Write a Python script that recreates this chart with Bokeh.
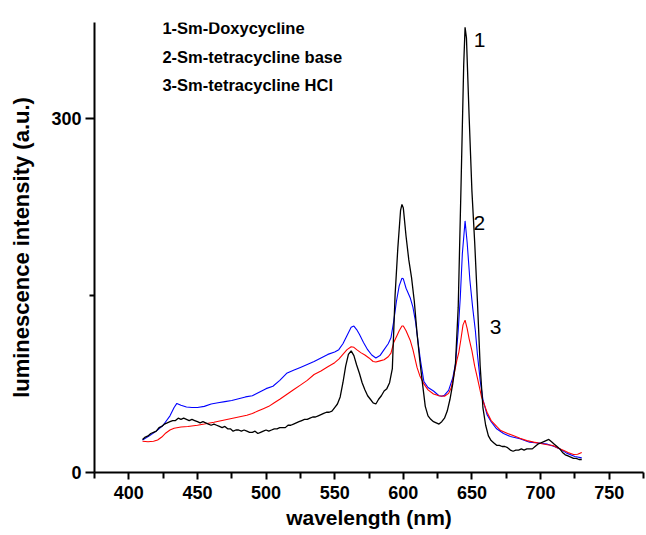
from bokeh.plotting import figure
from bokeh.models import FixedTicker, Label, Range1d
from bokeh.embed import file_html
from bokeh.resources import INLINE

# ---- data ----
wl_doxy = [410, 412, 414, 416, 418, 420, 422, 424, 426, 428, 430, 432, 434, 436, 438, 440,
           442, 444, 446, 448, 450, 452, 454, 456, 458, 460, 462, 464, 466, 468, 470, 472,
           474, 476, 478, 480, 482, 484, 486, 488, 490, 492, 494, 496, 498, 500, 502, 504,
           506, 508, 510, 512, 514, 516, 518, 520, 522, 524, 526, 528, 530, 532, 534, 536,
           538, 540, 542, 544, 546, 548, 550, 552, 554, 556, 558, 560, 562, 564, 566, 568,
           570, 572, 574, 576, 578, 580, 582, 584, 586, 588, 590, 592, 594, 596, 598, 599,
           600, 602, 604, 606, 608, 610, 612, 614, 616, 618, 620, 622, 624, 626, 628, 630,
           632, 634, 636, 638, 640, 642, 644, 645, 646, 648, 650, 652, 654, 656, 658, 660,
           662, 664, 666, 668, 670, 672, 674, 676, 678, 680, 682, 684, 686, 688, 690, 692,
           694, 696, 698, 700, 702, 704, 706, 708, 710, 712, 714, 716, 718, 720, 722, 724,
           726, 728, 730]
int_doxy = [28, 30, 31, 33, 34, 35, 38, 39, 41, 42, 43, 44, 44, 46, 45, 46,
            45, 44, 45, 44, 43, 42, 43, 42, 41, 40, 41, 40, 39, 38, 39, 37,
            37, 35, 36, 36, 35, 36, 35, 34, 34, 35, 33, 34, 35, 36, 35, 36,
            37, 37, 38, 38, 38, 40, 40, 41, 42, 43, 44, 45, 45, 46, 47, 47,
            48, 49, 50, 51, 51, 52, 55, 58, 64, 76, 90, 100, 103, 99, 91, 84,
            76, 70, 65, 62, 59, 58, 62, 65, 69, 71, 76, 88, 150, 190, 222, 227,
            224, 200, 180, 165, 145, 118, 95, 75, 56, 48, 45, 43, 42, 41, 43, 46,
            52, 62, 75, 92, 140, 240, 345, 377, 368, 300, 238, 195, 145, 90, 55, 40,
            31, 27, 25, 23, 23, 22, 22, 21, 19, 18, 19, 19, 20, 19, 20, 20,
            20, 22, 24, 25, 26, 27, 28, 26, 24, 22, 20, 17, 15, 14, 13, 12,
            12, 11, 11]

wl_base = [410, 415, 420, 425, 430, 433, 435, 438, 442, 446, 450, 455, 460, 465, 470, 475,
           480, 485, 490, 495, 500, 505, 510, 515, 520, 525, 530, 535, 540, 545, 550, 553,
           556, 559, 562, 564, 566, 568, 571, 574, 577, 580, 583, 586, 589, 591, 593, 595,
           597, 599, 600, 602, 605, 607, 609, 611, 612.5, 615, 618, 622, 626, 628, 630, 633,
           636, 638, 640, 641.5, 643, 645, 646.5, 648.5, 650.5, 652.5, 654, 656, 658, 661, 664, 668,
           673, 678, 685, 692, 700, 705, 710, 714, 719, 725, 730]
int_base = [27.5, 31, 35, 40, 48, 55, 58.5, 57, 55.5, 55, 55, 56, 58, 59, 60, 61,
            62.5, 64, 65, 68, 71, 73, 78, 84, 86.5, 89, 91.5, 94, 97, 100, 102, 104,
            109, 116, 123, 124, 121, 117, 110, 104, 99.5, 97, 99, 104, 109, 114, 128, 145,
            158, 164.5, 164, 156, 148, 140, 127, 108, 95, 77, 72, 69, 65, 64.5, 65.5, 69.5,
            80, 92, 120, 148, 185, 213, 195, 163, 140, 120, 100, 78, 62, 49, 43, 37,
            33, 30.5, 28.5, 25.7, 24.8, 24, 22, 20, 16.4, 13.5, 12.4]

wl_hcl = [410, 414, 418, 421, 424, 427, 430, 433, 438, 443, 450, 455, 462, 468, 474, 480,
          486, 490, 494, 498, 502, 506, 510, 515, 520, 525, 530, 535, 540, 545, 550, 553,
          556, 559, 562, 564, 566, 569, 572, 575, 578, 580, 583, 586, 589, 591, 593, 595,
          597, 599, 600, 602, 605, 607, 610, 612, 615, 618, 622, 626, 630, 633, 635, 637,
          639, 640.5, 642, 643.5, 645, 646.5, 648, 650, 652, 654, 657, 661, 664, 668, 671, 676,
          680, 685, 690, 695, 701, 705, 709, 713, 717, 720, 724, 727, 730]
int_hcl = [26.5, 26, 26.5, 27.5, 30, 33.5, 36, 37.5, 38.5, 39, 40, 41, 42.5, 44, 45.5, 47,
           48.5, 50, 52, 54, 56, 59, 62, 66, 70, 74, 78, 83, 86, 89.5, 93, 96,
           100, 104, 106.5, 106, 104, 101.5, 99.5, 97, 94, 93.5, 94.5, 95.5, 98, 101, 110, 115,
           120, 124, 124, 120, 112, 104, 89, 82, 75, 70, 66.5, 65, 64.5, 67, 72, 83,
           95, 102, 113, 125, 129, 122, 113, 103, 90, 80, 64, 51, 44, 39, 35.5, 33,
           31.3, 29, 27, 25.7, 24.3, 23.5, 22.9, 20.5, 18.6, 17, 15.2, 15.5, 17]

x_ticks = [400, 450, 500, 550, 600, 650, 700, 750]
x_minor = [375, 425, 475, 525, 575, 625, 675, 725, 775]
y_ticks = [0, 300]
y_minor = [150]

x_title = "wavelength (nm)"
y_title = "luminescence intensity (a.u.)"

legend_lines = ["1-Sm-Doxycycline", "2-Sm-tetracycline base", "3-Sm-tetracycline HCl"]
legend_x = 424.5
legend_y = [376.2, 351.7, 327.7]

curve_numbers = ["1", "2", "3"]
number_x = [655.5, 655.4, 667.2]
number_y = [366.5, 211.3, 123.5]

FONT = "Liberation Sans"

p = figure(width=646, height=535, output_backend="svg", toolbar_location=None,
           x_range=Range1d(375, 775), y_range=Range1d(0, 381),
           min_border_left=94, min_border_right=3, min_border_top=22, min_border_bottom=63)
p.outline_line_color = None
p.xgrid.visible = False
p.ygrid.visible = False
p.background_fill_color = "white"

p.line(wl_base, int_base, line_color="#0000ff", line_width=1.1)
p.line(wl_hcl, int_hcl, line_color="#ff0000", line_width=1.1)
p.line(wl_doxy, int_doxy, line_color="#000000", line_width=1.3)

for ax in (p.xaxis[0], p.yaxis[0]):
    ax.axis_line_width = 2
    ax.axis_line_color = "black"
    ax.major_tick_line_width = 2
    ax.minor_tick_line_width = 2
    ax.major_tick_in = 0
    ax.minor_tick_in = 0
    ax.major_label_text_font = FONT
    ax.major_label_text_font_style = "bold"
    ax.major_label_text_font_size = "18px"
    ax.major_label_text_color = "black"
    ax.axis_label_text_font = FONT
    ax.axis_label_text_font_style = "bold"
    ax.axis_label_text_font_size = "21px"
    ax.axis_label_text_color = "black"

p.xaxis.ticker = FixedTicker(ticks=x_ticks, minor_ticks=x_minor)
p.yaxis.ticker = FixedTicker(ticks=y_ticks, minor_ticks=y_minor)
p.xaxis.major_tick_out = 7
p.xaxis.minor_tick_out = 6
p.yaxis.major_tick_out = 9
p.yaxis.minor_tick_out = 5
p.xaxis.major_label_standoff = 6
p.yaxis.major_label_standoff = 4
p.xaxis.axis_label = x_title
p.xaxis.axis_label_standoff = 4
p.yaxis.axis_label = y_title
p.yaxis.axis_label_text_font_size = "22px"
p.yaxis.axis_label_standoff = 14

for txt, yy in zip(legend_lines, legend_y):
    p.add_layout(Label(x=legend_x, y=yy, text=txt, text_font=FONT, text_font_style="bold",
                       text_font_size="16.5px", text_baseline="alphabetic", text_align="left",
                       text_color="black"))

for txt, xx, yy in zip(curve_numbers, number_x, number_y):
    p.add_layout(Label(x=xx, y=yy, text=txt, text_font=FONT, text_font_size="21px",
                       text_baseline="middle", text_align="center", text_color="black"))

open("out.html", "w").write(file_html(p, INLINE))
